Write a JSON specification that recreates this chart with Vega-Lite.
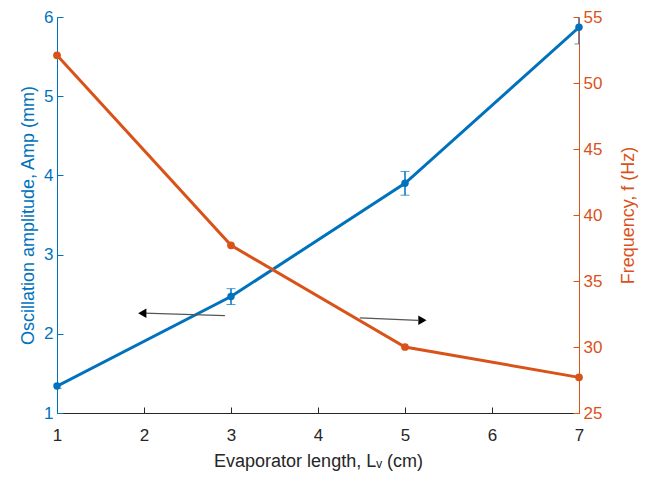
{
  "$schema": "https://vega.github.io/schema/vega-lite/v6.json",
  "width": 522,
  "height": 396,
  "padding": {"left": 57, "top": 17, "right": 73, "bottom": 64},
  "autosize": {"type": "none"},
  "background": "white",
  "config": {
    "view": {"stroke": null},
    "font": "Liberation Sans",
    "axis": {"labelFont": "Liberation Sans", "titleFont": "Liberation Sans", "labelFontSize": 17, "titleFontSize": 18, "titleFontWeight": "normal", "grid": false, "tickSize": -6, "labelPadding": 10, "format": "d", "labelFlush": false, "labelOverlap": false}
  },
  "datasets": {
    "amp": [
      {"L": 1, "amp": 1.34, "lo": 1.31, "hi": 1.37},
      {"L": 3, "amp": 2.47, "lo": 2.37, "hi": 2.57},
      {"L": 5, "amp": 3.9, "lo": 3.75, "hi": 4.05},
      {"L": 7, "amp": 5.87, "lo": 5.66, "hi": 6.08}
    ],
    "freq": [
      {"L": 1, "f": 52.1},
      {"L": 3, "f": 37.7},
      {"L": 5, "f": 30.0},
      {"L": 7, "f": 27.7}
    ],
    "arrows": [
      {"x1": 2.93, "x2": 2.0, "y1": 2.23, "y2": 2.26, "hx": 1.98, "hy": 2.26, "dir": "left"},
      {"x1": 4.48, "x2": 5.15, "y1": 2.2, "y2": 2.17, "hx": 5.2, "hy": 2.17, "dir": "right"}
    ]
  },
  "layer": [
    {
      "layer": [
        {
          "data": {"name": "amp"},
          "mark": {"type": "line", "color": "#0072BD", "strokeWidth": 3, "clip": true},
          "encoding": {
            "x": {"field": "L", "type": "quantitative", "scale": {"domain": [1, 7], "nice": false, "zero": false},
              "axis": {"title": "Evaporator length, Lᵥ (cm)", "values": [1, 2, 3, 4, 5, 6, 7], "domainColor": "#262626", "tickColor": "#262626", "labelColor": "#262626", "titleColor": "#262626", "labelPadding": 20, "titlePadding": 9}},
            "y": {"field": "amp", "type": "quantitative", "scale": {"domain": [1, 6], "nice": false, "zero": false},
              "axis": {"title": "Oscillation amplitude, Amp (mm)", "values": [1, 2, 3, 4, 5, 6], "domainColor": "#0072BD", "tickColor": "#0072BD", "labelColor": "#0072BD", "titleColor": "#0072BD", "titlePadding": 6}}
          }
        },
        {
          "data": {"name": "amp"},
          "mark": {"type": "errorbar", "ticks": {"size": 9, "color": "#0072BD", "strokeWidth": 1.5}, "rule": {"color": "#0072BD", "strokeWidth": 1.5}, "clip": true},
          "encoding": {
            "x": {"field": "L", "type": "quantitative"},
            "y": {"field": "lo", "type": "quantitative", "title": "Oscillation amplitude, Amp (mm)"},
            "y2": {"field": "hi"}
          }
        },
        {
          "data": {"name": "amp"},
          "mark": {"type": "point", "filled": true, "color": "#0072BD", "size": 55, "opacity": 1},
          "encoding": {
            "x": {"field": "L", "type": "quantitative"},
            "y": {"field": "amp", "type": "quantitative"}
          }
        },
        {
          "data": {"name": "arrows"},
          "mark": {"type": "rule", "color": "#555555", "strokeWidth": 1.2},
          "encoding": {
            "x": {"field": "x1", "type": "quantitative"},
            "x2": {"field": "x2"},
            "y": {"field": "y1", "type": "quantitative"},
            "y2": {"field": "y2"}
          }
        },
        {
          "data": {"name": "arrows"},
          "mark": {"type": "point", "filled": true, "color": "black", "size": 90, "opacity": 1},
          "encoding": {
            "x": {"field": "hx", "type": "quantitative"},
            "y": {"field": "hy", "type": "quantitative"},
            "shape": {"field": "dir", "type": "nominal", "scale": {"domain": ["left", "right"], "range": ["triangle-left", "triangle-right"]}, "legend": null}
          }
        }
      ]
    },
    {
      "layer": [
        {
          "data": {"name": "freq"},
          "mark": {"type": "line", "color": "#D95319", "strokeWidth": 3},
          "encoding": {
            "x": {"field": "L", "type": "quantitative"},
            "y": {"field": "f", "type": "quantitative", "scale": {"domain": [25, 55], "nice": false, "zero": false},
              "axis": {"orient": "right", "title": "Frequency, f (Hz)", "titleAngle": 270, "titleX": 49, "titleY": 198, "titleAlign": "center", "titleBaseline": "middle", "values": [25, 30, 35, 40, 45, 50, 55], "domainColor": "#D95319", "tickColor": "#D95319", "labelColor": "#D95319", "titleColor": "#D95319"}}
          }
        },
        {
          "data": {"name": "freq"},
          "mark": {"type": "point", "filled": true, "color": "#D95319", "size": 60, "opacity": 1},
          "encoding": {
            "x": {"field": "L", "type": "quantitative"},
            "y": {"field": "f", "type": "quantitative"}
          }
        }
      ]
    }
  ],
  "resolve": {"scale": {"y": "independent"}}
}
